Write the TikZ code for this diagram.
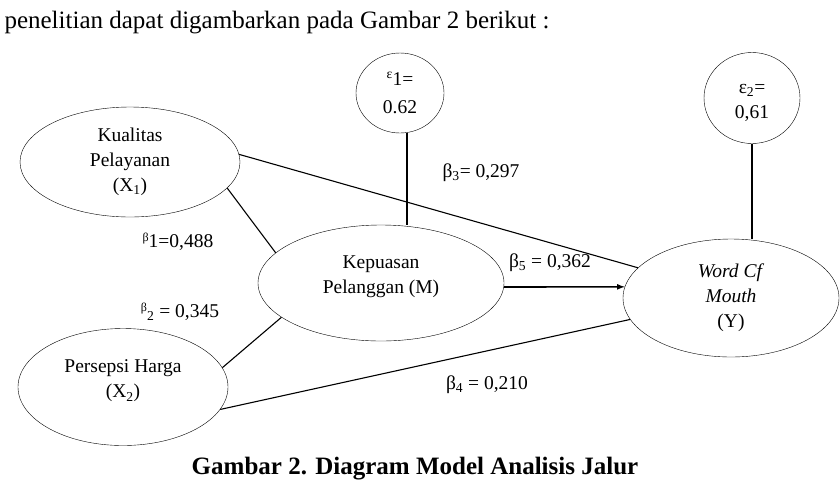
\documentclass[tikz,border=0pt]{standalone}
\usepackage{fontspec}
\setmainfont{Liberation Serif}
\usetikzlibrary{arrows,shapes}
\tikzset{
  var/.style={draw,ellipse,inner sep=0pt,align=center,font=\fontsize{19.5}{25}\selectfont},
  inner/.style={align=center,font=\fontsize{19.5}{25}\selectfont,yshift=6pt},
  err/.style={draw,ellipse,inner sep=0pt,align=center,font=\fontsize{19.5}{28}\selectfont},
  coef/.style={font=\fontsize{19.5}{22}\selectfont},
  link/.style={line width=1.1pt}
}
\newcommand{\smallbeta}{\raisebox{0.7ex}{\fontsize{12}{12}\selectfont β}}

\begin{document}
\begin{tikzpicture}[x=1pt,y=-1pt]
\useasboundingbox (0,0) rectangle (840,483);
\node[anchor=base west,font=\fontsize{25}{28}\selectfont] (intro) at (1,28) {penelitian dapat digambarkan pada Gambar 2 berikut :};
% variabel
\node[var,minimum width=220,minimum height=110] (X1) at (130,162) {Kualitas\\Pelayanan\\(X\textsubscript{1})};
\node[var,minimum width=210,minimum height=117,label={[inner]center:Persepsi Harga\\(X\textsubscript{2})}] (X2) at (123,387) {};
\node[var,minimum width=246,minimum height=116,label={[inner]center:Kepuasan\\Pelanggan (M)}] (M) at (381,283) {};
\node[var,minimum width=216,minimum height=118] (Y) at (731,298) {\textit{Word Cf}\\\textit{Mouth}\\(Y)};
\node[err,minimum width=88,minimum height=80] (e1) at (400,93) {\textsuperscript{ε}1=\\0.62};
\node[err,minimum width=96,minimum height=91,label={[align=center,font=\fontsize{19.5}{25}\selectfont,yshift=-5pt]center:ε\textsubscript{2}=\\0,61}] (e2) at (752,98) {};
% koefisien
\node[coef] (b1) at (178,242) {\smallbeta1=0,488};
\node[coef] (b2) at (180,312) {\smallbeta\textsubscript{2} = 0,345};
\node[coef] (b3) at (481,173) {β\textsubscript{3}= 0,297};
\node[coef] (b4) at (487,385) {β\textsubscript{4} = 0,210};
\node[coef] (b5) at (550,263) {β\textsubscript{5} = 0,362};
\draw[link] (X1.4) -- (Y.162);
\draw[link] (X1.-15) -- (M.164);
\draw[link] (X2.11) -- (M.199);
\draw[link] (X2.-13) -- (Y.192);
\draw[link,line width=1.6pt,-latex] ([yshift=-4pt]M.east) -- (Y.174);
\draw[link] ([xshift=7pt]e1.south) -- ([xshift=7pt]e1.south |- M.north);
\draw[link,line width=2.4pt] (e2.south) -- (e2.south |- Y.north);
\node[anchor=base,font=\fontsize{25}{28}\selectfont\bfseries] (cap) at (415,474) {Gambar 2. Diagram Model Analisis Jalur};
\end{tikzpicture}
\end{document}
